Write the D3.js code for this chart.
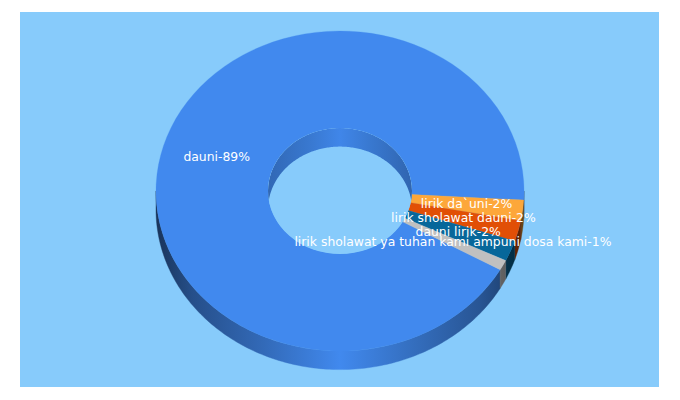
<!DOCTYPE html>
<html>
<head>
<meta charset="utf-8">
<script src="https://cdnjs.cloudflare.com/ajax/libs/d3/7.8.5/d3.min.js"></script>
<style>
html, body { margin: 0; padding: 0; background: #fff; }
svg { display: block; }
</style>
</head>
<body>
<div id="chart"></div>
<script>
var labels = ["dauni", "lirik da`uni", "lirik sholawat dauni", "dauni lirik", "lirik sholawat ya tuhan kami ampuni dosa kami"];
var percents = [89, 2, 2, 2, 1];
var colors = ["#4189ee", "#fda73a", "#e14f06", "#07679a", "#c0c0c0"];

var param = {
	width: 680, height: 400,
	plotX: 20, plotY: 12, plotW: 639, plotH: 375,
	cx: 340, cy: 191,
	rx: 184, ry: 160, holeRx: 72, holeRy: 63,
	depth: 18.6,
	startDeg: 119.5,
	bigLabelShift: -2
};

function rad(deg) { return deg * Math.PI / 180; }

var slices = d3.pie()
	.sort(null)
	.value(function(d) { return d; })
	.startAngle(rad(param.startDeg))
	.endAngle(rad(param.startDeg + 360))(percents);

var svg = d3.select("#chart").append("svg")
	.attr("width", param.width)
	.attr("height", param.height);

svg.append("rect")
	.attr("x", param.plotX).attr("y", param.plotY)
	.attr("width", param.plotW).attr("height", param.plotH)
	.attr("fill", "#87cbfb");

var defs = svg.append("defs");

// walls get darker towards the sides
var wallStops = [[0, 0.62], [0.1, 0.42], [0.3, 0.22], [0.5, 0], [0.7, 0.2], [0.88, 0.38], [1, 0.6]];
colors.forEach(function(c, i) {
	var g = defs.append("linearGradient")
		.attr("id", "wall" + i)
		.attr("gradientUnits", "userSpaceOnUse")
		.attr("x1", -param.rx).attr("x2", param.rx)
		.attr("y1", 0).attr("y2", 0);
	wallStops.forEach(function(s) {
		g.append("stop").attr("offset", s[0]).attr("stop-color", d3.interpolateRgb(c, "#000")(s[1]));
	});
});
var innerGrad = defs.append("linearGradient")
	.attr("id", "innerWall")
	.attr("gradientUnits", "userSpaceOnUse")
	.attr("x1", -param.holeRx).attr("x2", param.holeRx)
	.attr("y1", 0).attr("y2", 0);
[[0, 0.24], [0.3, 0.12], [0.5, 0.02], [0.7, 0.12], [1, 0.26]].forEach(function(s) {
	innerGrad.append("stop").attr("offset", s[0]).attr("stop-color", d3.interpolateRgb(colors[0], "#000")(s[1]));
});

defs.append("clipPath").attr("id", "holeClip")
	.append("ellipse")
	.attr("rx", param.holeRx).attr("ry", param.holeRy);

var chart = svg.append("g").attr("transform", "translate(" + param.cx + "," + param.cy + ")");

// band between a rim and the same rim moved down by the depth
function wallPath(a0, a1, rx, ry) {
	var n = Math.max(2, Math.ceil((a1 - a0) / rad(1)));
	var angles = d3.range(n + 1).map(function(k) { return a0 + (a1 - a0) * k / n; });
	return d3.area()
		.x(function(a) { return rx * Math.sin(a); })
		.y0(function(a) { return -ry * Math.cos(a); })
		.y1(function(a) { return -ry * Math.cos(a) + param.depth; })(angles);
}

// outer wall: only the front half of the rim shows
slices.forEach(function(s) {
	[[rad(90), rad(270)], [rad(450), rad(630)]].forEach(function(f) {
		var a0 = Math.max(s.startAngle, f[0]), a1 = Math.min(s.endAngle, f[1]);
		if (a1 > a0) {
			chart.append("path")
				.attr("d", wallPath(a0, a1, param.rx, param.ry))
				.attr("fill", "url(#wall" + s.index + ")")
				.attr("stroke", "url(#wall" + s.index + ")")
				.attr("stroke-width", 0.4);
		}
	});
});

// the top face, drawn in a flattened circle
var arc = d3.arc().innerRadius(param.holeRx).outerRadius(param.rx);
var face = chart.append("g").attr("transform", "scale(1," + (param.ry / param.rx) + ")");
face.selectAll("path.slice")
	.data(slices)
	.enter().append("path")
	.attr("class", "slice")
	.attr("d", arc)
	.attr("fill", function(d) { return colors[d.index]; })
	.attr("stroke", function(d) { return colors[d.index]; })
	.attr("stroke-width", 0.3);

// hole shows the background, with the back of the inner wall over it
chart.append("ellipse")
	.attr("rx", param.holeRx).attr("ry", param.holeRy)
	.attr("fill", "#87cbfb");

chart.append("g")
	.attr("clip-path", "url(#holeClip)")
	.append("path")
	.attr("d", wallPath(rad(-90), rad(90), param.holeRx, param.holeRy))
	.attr("fill", "url(#innerWall)");

var labelR = (param.rx + param.holeRx) / 2;
chart.selectAll("text")
	.data(slices)
	.enter().append("text")
	.attr("x", function(d) { return labelR * Math.sin((d.startAngle + d.endAngle) / 2) - 0.5; })
	.attr("y", function(d) {
		var y = -labelR * (param.ry / param.rx) * Math.cos((d.startAngle + d.endAngle) / 2);
		return d.index === 0 ? y + param.bigLabelShift : y;
	})
	.attr("dy", "0.27em")
	.attr("text-anchor", "middle")
	.attr("font-family", "'DejaVu Sans', sans-serif")
	.attr("font-size", 12.4)
	.attr("fill", "#fff")
	.text(function(d) { return labels[d.index] + "-" + percents[d.index] + "%"; });
</script>
</body>
</html>
